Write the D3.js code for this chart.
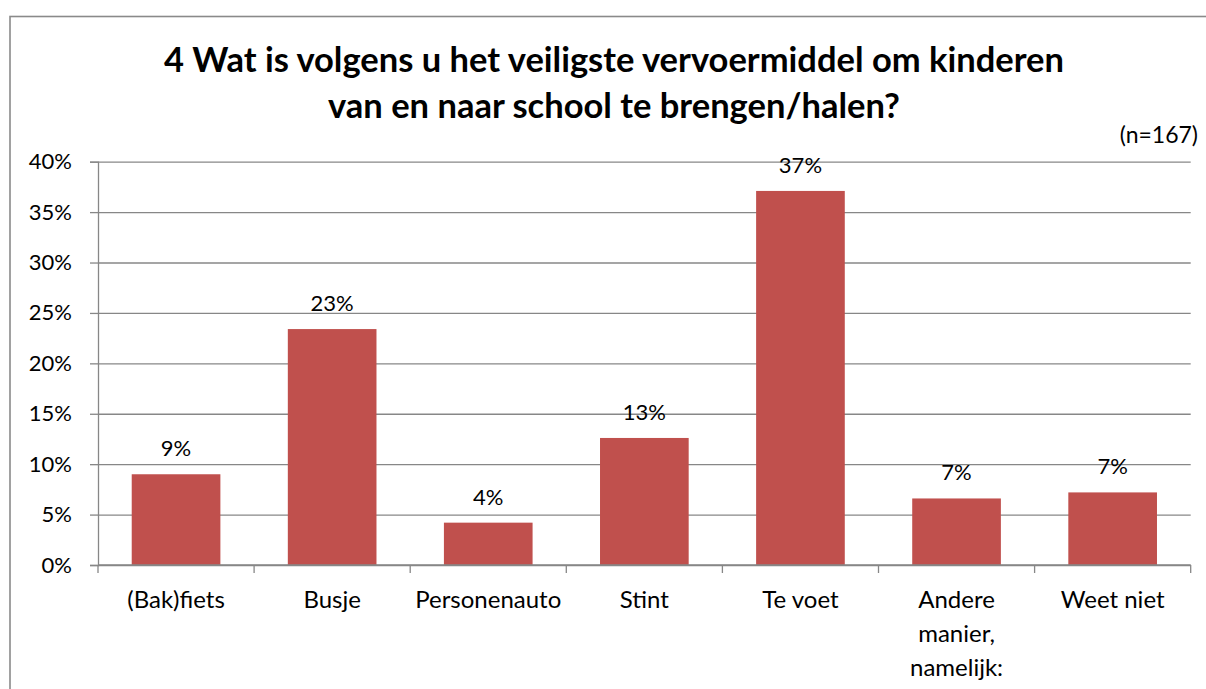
<!DOCTYPE html>
<html>
<head>
<meta charset="utf-8">
<script src="https://cdn.jsdelivr.net/npm/d3@7"></script>
<style>
  html, body { margin: 0; padding: 0; background: #fff; }
  svg { display: block; }
  text { font-family: Lato, "Open Sans", sans-serif; fill: #000; }
</style>
</head>
<body>
<svg id="chart" width="1206" height="689"></svg>
<script>
const titleLines = ["4 Wat is volgens u het veiligste vervoermiddel om kinderen", "van en naar school te brengen/halen?"];
const sampleNote = "(n=167)";
const categories = ["(Bak)fiets", "Busje", "Personenauto", "Stint", "Te voet", "Andere manier, namelijk:", "Weet niet"];
const categoryLines = [["(Bak)fiets"], ["Busje"], ["Personenauto"], ["Stint"], ["Te voet"], ["Andere", "manier,", "namelijk:"], ["Weet niet"]];
const values = [0.090, 0.234, 0.042, 0.126, 0.371, 0.066, 0.072];
const valueLabels = ["9%", "23%", "4%", "13%", "37%", "7%", "7%"];
const yTicks = [0, 0.05, 0.10, 0.15, 0.20, 0.25, 0.30, 0.35, 0.40];

const svg = d3.select("#chart");
const gridColor = "#878787";
const barColor = "#C0504D";

// outer frame
svg.append("rect").attr("x", 10).attr("y", 16.5).attr("width", 1210).attr("height", 690)
  .attr("fill", "none").attr("stroke", "#8a8a8a").attr("stroke-width", 1.6);

const plotLeft = 98, plotRight = 1190.7, plotTop = 161.7, plotBottom = 565;
const y = d3.scaleLinear().domain([0, 0.40]).range([plotBottom, plotTop]);
const x = d3.scaleBand().domain(categories).range([plotLeft, plotRight]).paddingInner(0.432).paddingOuter(0.216);

// gridlines
svg.append("g").attr("transform", `translate(${plotLeft},0)`)
  .call(d3.axisLeft(y).tickValues(yTicks).tickSize(-(plotRight - plotLeft)).tickFormat(""))
  .call(g => g.select(".domain").remove())
  .call(g => g.selectAll("line").attr("stroke", gridColor).attr("stroke-width", 1.3));

// y axis
svg.append("g").attr("transform", `translate(${plotLeft},0)`)
  .call(d3.axisLeft(y).tickValues(yTicks).tickSize(8).tickPadding(18).tickFormat(d3.format(".0%")))
  .call(g => g.select(".domain").attr("stroke", gridColor).attr("stroke-width", 1.3))
  .call(g => g.selectAll("line").attr("stroke", gridColor).attr("stroke-width", 1.3))
  .call(g => g.selectAll("text").attr("font-size", 22).attr("font-family", "Lato, sans-serif").attr("fill", "#000"));

// bars
svg.append("g").selectAll("rect").data(values).join("rect")
  .attr("x", (d, i) => x(categories[i]))
  .attr("y", d => y(d))
  .attr("width", x.bandwidth())
  .attr("height", d => y(0) - y(d))
  .attr("fill", barColor);

// value labels
svg.append("g").selectAll("text").data(values).join("text")
  .attr("x", (d, i) => x(categories[i]) + x.bandwidth() / 2)
  .attr("y", d => y(d) - 18)
  .attr("text-anchor", "middle")
  .attr("font-size", 22)
  .text((d, i) => valueLabels[i]);

// x axis line & boundary ticks
const gap = x.step() - x.bandwidth();
const bounds = categories.map(c => x(c) - gap / 2).concat([x(categories[categories.length - 1]) + x.bandwidth() + gap / 2]);
const xg = svg.append("g");
xg.append("line").attr("x1", plotLeft).attr("x2", plotRight).attr("y1", plotBottom).attr("y2", plotBottom)
  .attr("stroke", gridColor).attr("stroke-width", 1.3);
xg.selectAll("line.tick").data(bounds).join("line").attr("class", "tick")
  .attr("x1", d => d).attr("x2", d => d).attr("y1", plotBottom).attr("y2", plotBottom + 8)
  .attr("stroke", gridColor).attr("stroke-width", 1.3);

// category labels
const cl = svg.append("g").selectAll("text").data(categories).join("text")
  .attr("x", c => x(c) + x.bandwidth() / 2)
  .attr("y", 608)
  .attr("text-anchor", "middle")
  .attr("font-size", 24);
cl.each(function(c, i) {
  d3.select(this).selectAll("tspan").data(categoryLines[i]).join("tspan")
    .attr("x", x(c) + x.bandwidth() / 2)
    .attr("dy", (d, j) => j === 0 ? 0 : 34)
    .text(d => d);
});

// title
svg.append("g").selectAll("text").data(titleLines).join("text")
  .attr("x", 614)
  .attr("y", (d, i) => 72 + i * 46)
  .attr("text-anchor", "middle")
  .attr("font-size", 34.5)
  .attr("font-weight", "bold")
  .text(d => d);

// sample note
svg.append("text").attr("x", 1198).attr("y", 143).attr("text-anchor", "end")
  .attr("font-size", 23).text(sampleNote);
</script>
</body>
</html>
